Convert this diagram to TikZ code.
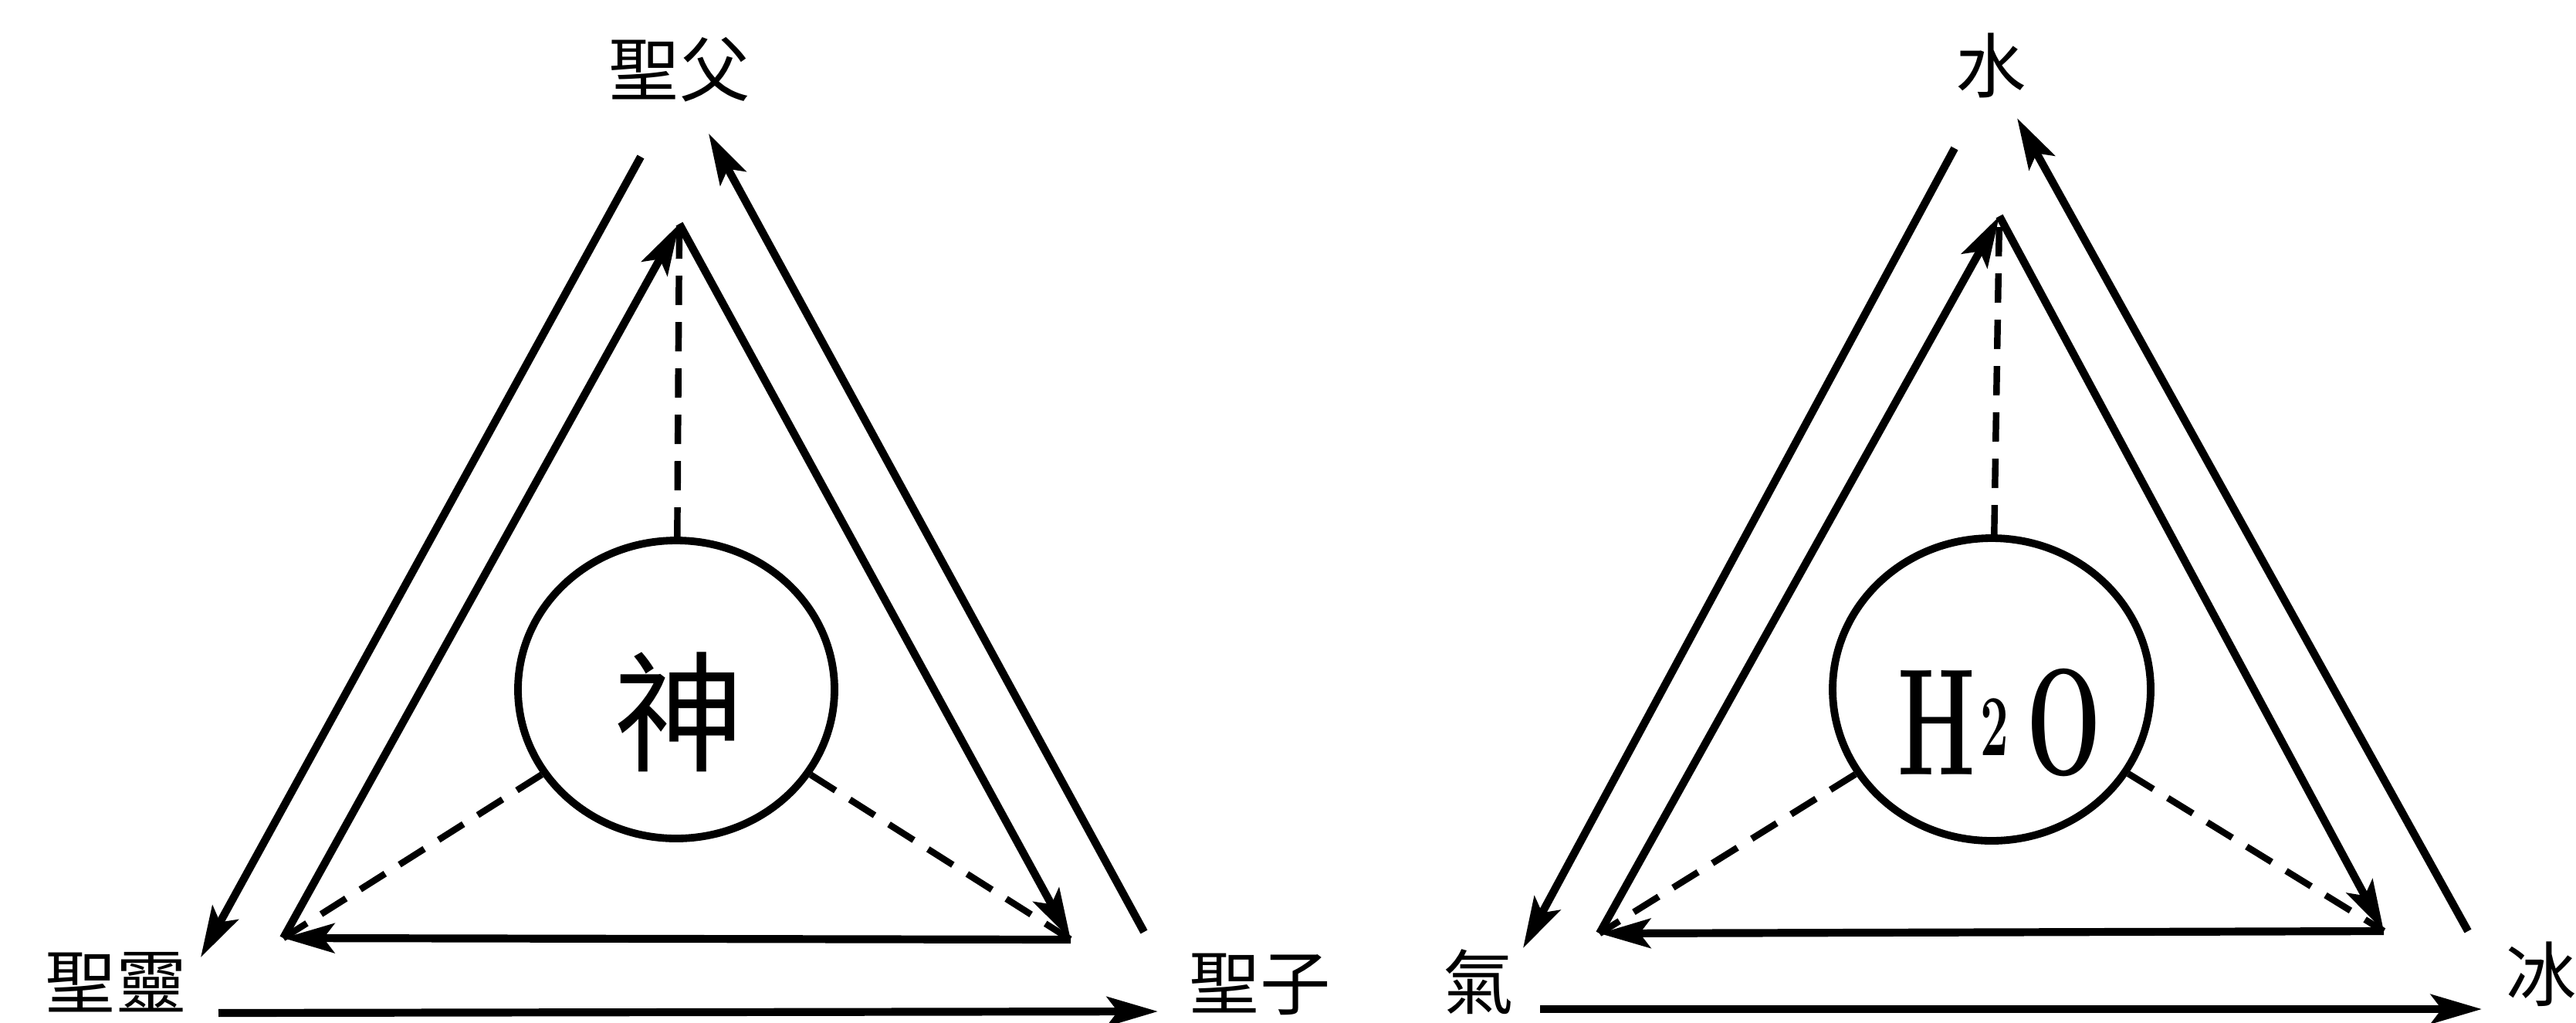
\documentclass[tikz,border=0pt]{standalone}
\usepackage{fontspec}
\newfontfamily\cjk{Noto Sans CJK TC}
\usepackage{tikz}
\usetikzlibrary{arrows.meta,shapes.geometric}

\begin{document}
\begin{tikzpicture}[
  x=1cm,
  y=1cm,
  >={Stealth[length=6.6mm,width=3.8mm,inset=1.4mm]},
  every node/.style={align=center},
  vertexlbl/.style={font=\cjk\fontsize{26}{28}\selectfont, inner sep=0pt},
  core/.style={ellipse, draw, line width=2.8pt, minimum width=4.1cm, minimum height=3.86cm, inner sep=0pt},
  coretxt/.style={inner sep=0pt},
  flow/.style={->, line width=2.9pt},
  link/.style={line width=2.4pt, dash pattern=on 3.8mm off 2.2mm}
]
\useasboundingbox (0,0) rectangle (33.37,-13.24);

\node[vertexlbl] (father) at (8.80,-0.90) {聖父};
\node[vertexlbl] (spirit) at (1.50,-12.72) {聖靈};
\node[vertexlbl] (son) at (16.32,-12.75) {聖子};
\node[core] (god) at (8.76,-8.93) {};
\node[coretxt, font=\cjk\fontsize{48}{50}\selectfont] (godtxt) at (8.80,-9.22) {神};

\coordinate (gApex) at (8.80,-2.90);
\coordinate (gLeft) at (3.67,-12.15);
\coordinate (gRight) at (13.87,-12.17);
\coordinate (gL1) at (8.30,-2.03);
\coordinate (gL2) at (2.60,-12.40);
\coordinate (gB1) at (2.83,-13.12);
\coordinate (gB2) at (15.00,-13.10);
\coordinate (gR1) at (14.82,-12.07);
\coordinate (gR2) at (9.18,-1.73);

\draw[flow] (gL1) -- (gL2);
\draw[flow] (gB1) -- (gB2);
\draw[flow] (gR1) -- (gR2);
\draw[flow] (gLeft) -- (gApex);
\draw[flow] (gApex) -- (gRight);
\draw[flow] (gRight) -- (gLeft);
\draw[link] (god) -- (gApex);
\draw[link] (god) -- (gLeft);
\draw[link] (god) -- (gRight);

\node[vertexlbl] (water) at (25.79,-0.85) {水};
\node[vertexlbl] (steam) at (19.15,-12.72) {氣};
\node[vertexlbl] (ice) at (32.92,-12.62) {冰};
\node[core, minimum width=4.12cm, minimum height=3.92cm] (hho) at (25.80,-8.93) {};
\node[coretxt, font=\bfseries\fontsize{56}{60}\selectfont] (hhotxt) at (25.90,-9.36)
  {\scalebox{0.58}[1]{H\hspace{0.12cm}\raisebox{0.25cm}{\fontsize{32}{34}\selectfont 2}\hspace{0.4cm}O}};

\coordinate (wApex) at (25.90,-2.80);
\coordinate (wLeft) at (20.72,-12.09);
\coordinate (wRight) at (30.88,-12.06);
\coordinate (wL1) at (25.32,-1.92);
\coordinate (wL2) at (19.73,-12.28);
\coordinate (wB1) at (19.95,-13.07);
\coordinate (wB2) at (32.15,-13.07);
\coordinate (wR1) at (31.97,-12.06);
\coordinate (wR2) at (26.13,-1.53);

\draw[flow] (wL1) -- (wL2);
\draw[flow] (wB1) -- (wB2);
\draw[flow] (wR1) -- (wR2);
\draw[flow] (wLeft) -- (wApex);
\draw[flow] (wApex) -- (wRight);
\draw[flow] (wRight) -- (wLeft);
\draw[link] (hho) -- (wApex);
\draw[link] (hho) -- (wLeft);
\draw[link] (hho) -- (wRight);
\end{tikzpicture}
\end{document}
